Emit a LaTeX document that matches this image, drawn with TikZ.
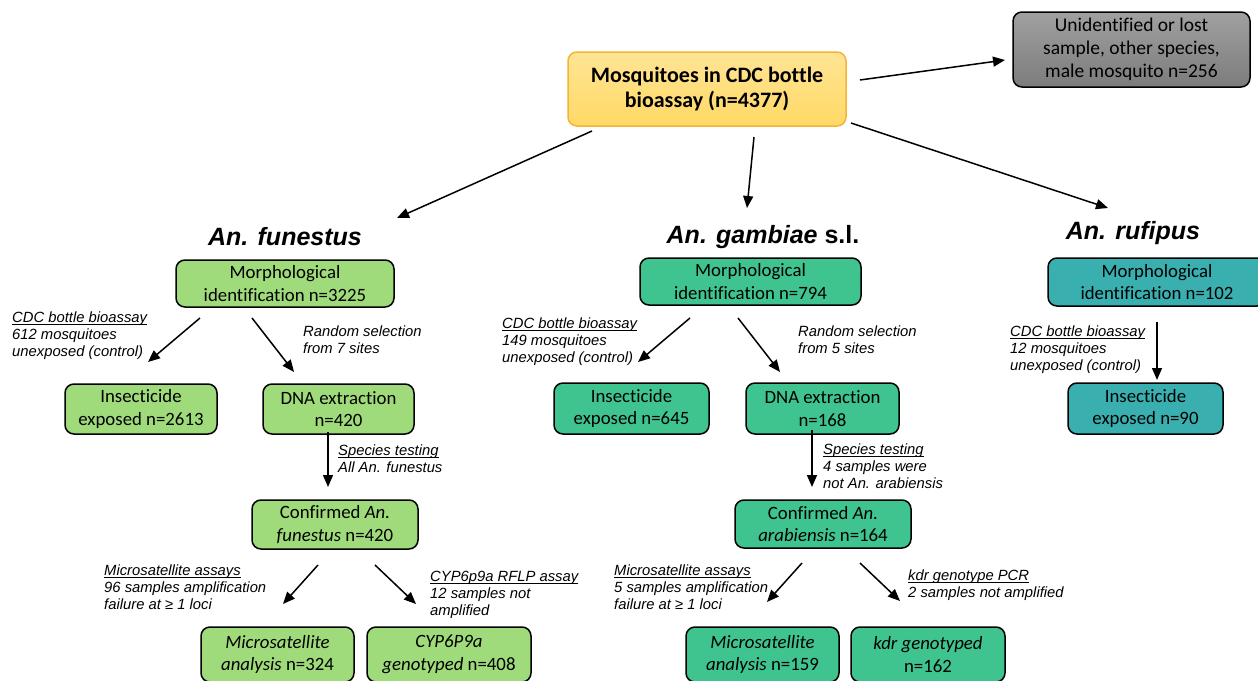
\documentclass[tikz,border=0pt]{standalone}
\usepackage{fontspec}
\setmainfont{Carlito}[Ligatures=NoCommon]
\newfontfamily\arialf{Liberation Sans}
\usetikzlibrary{arrows.meta}
\definecolor{ybox}{HTML}{FFD966}
\definecolor{yborder}{HTML}{F2B535}
\definecolor{gtop}{HTML}{A0A0A0}
\definecolor{gbot}{HTML}{7C7C7C}
\definecolor{lgreen}{HTML}{9FDB7B}
\definecolor{sgreen}{HTML}{3FC48F}
\definecolor{teal}{HTML}{3AAFB0}
\newcommand{\uln}[1]{\setbox0\hbox{#1}\rlap{\rule[-2pt]{\wd0}{1pt}}\box0}
\begin{document}
\begin{tikzpicture}[x=1pt,y=-1pt,
  box/.style={draw=black, line width=1.5pt, rounded corners=9pt, align=center, inner sep=0pt,
    font=\fontsize{18.8}{22.5}\selectfont, text=black},
  anno/.style={anchor=north west, align=left, inner sep=0pt,
    font=\arialf\itshape\fontsize{14.8}{16.8}\selectfont},
  heading/.style={anchor=base, inner sep=0pt, font=\arialf\bfseries\itshape\fontsize{25}{30}\selectfont},
  arr/.style={line width=1.5pt, -{Triangle[length=12pt,width=10pt]}}]
\useasboundingbox (0,0) rectangle (1258,680);
\clip (0,0) rectangle (1258,680);

% top boxes
\node[box, draw=yborder, top color=ybox!70!white, bottom color=ybox, minimum width=278, minimum height=74,
  font=\bfseries\fontsize{22}{25}\selectfont] (top) at (707,89) {Mosquitoes in CDC bottle\\bioassay (n=4377)};
\node[box, top color=gtop, bottom color=gbot, minimum width=237, minimum height=75,
  font=\fontsize{19.5}{23}\selectfont] (grey) at (1131.5,49.5)
  {Unidentified or lost\\sample, other species,\\male mosquito n=256};

% headings
\node[heading] (hF) at (285,245) {An. funestus};
\node[heading] (hG) at (763,243) {An. gambiae \textup{s.l.}};
\node[heading] (hR) at (1133,239) {An. rufipus};

% funestus branch
\node[box, fill=lgreen, minimum width=218, minimum height=47] (morphF) at (285,283.5) {Morphological\\identification n=3225};
\node[box, fill=lgreen, minimum width=152, minimum height=50] (insF) at (141,409) {Insecticide\\exposed n=2613};
\node[box, fill=lgreen, minimum width=151, minimum height=50] (dnaF) at (338.5,409) {DNA extraction\\n=420};
\node[box, fill=lgreen, minimum width=166, minimum height=49] (confF) at (335,524.5) {Confirmed \textit{An.}\\\textit{funestus} n=420};
\node[box, fill=lgreen, minimum width=153, minimum height=55] (microF) at (277.5,654.5) {\textit{Microsatellite}\\\textit{analysis} n=324};
\node[box, fill=lgreen, minimum width=164, minimum height=55] (cypF) at (449,654.5) {\textit{CYP6P9a}\\\textit{genotyped} n=408};

% gambiae branch
\node[box, fill=sgreen, minimum width=221, minimum height=47] (morphG) at (750.5,281.5) {Morphological\\identification n=794};
\node[box, fill=sgreen, minimum width=155, minimum height=51] (insG) at (631.5,408.5) {Insecticide\\exposed n=645};
\node[box, fill=sgreen, minimum width=153, minimum height=51] (dnaG) at (822.5,408.5) {DNA extraction\\n=168};
\node[box, fill=sgreen, minimum width=176, minimum height=48] (confG) at (823,524) {Confirmed \textit{An.}\\\textit{arabiensis} n=164};
\node[box, fill=sgreen, minimum width=153, minimum height=55] (microG) at (762.5,654.5) {\textit{Microsatellite}\\\textit{analysis} n=159};
\node[box, fill=sgreen, minimum width=154, minimum height=55] (kdr) at (928,654.5) {\textit{kdr genotyped}\\n=162};

% rufipus branch
\node[box, fill=teal, minimum width=218, minimum height=48] (morphR) at (1157,282) {Morphological\\identification n=102};
\node[box, fill=teal, minimum width=155, minimum height=51] (insR) at (1145.5,408.5) {Insecticide\\exposed n=90};

% annotations
\node[anno] (a1) at (12,312) {\uln{CDC bottle bioassay}\\612 mosquitoes\\unexposed (control)};
\node[anno] (a2) at (303,326) {Random selection\\from 7 sites};
\node[anno] (a3) at (338,445) {\uln{Species testing}\\All An. funestus};
\node[anno] (a4) at (104,565) {\uln{Microsatellite assays}\\96 samples amplification\\failure at ≥ 1 loci};
\node[anno] (a5) at (430,571) {\uln{CYP6p9a RFLP assay}\\12 samples not\\amplified};
\node[anno] (a6) at (502,318) {\uln{CDC bottle bioassay}\\149 mosquitoes\\unexposed (control)};
\node[anno] (a7) at (798,326) {Random selection\\from 5 sites};
\node[anno] (a8) at (823,444) {\uln{Species testing}\\4 samples were\\not An. arabiensis};
\node[anno] (a9) at (614,565) {\uln{Microsatellite assays}\\5 samples amplification\\failure at ≥ 1 loci};
\node[anno] (a10) at (908,570) {\uln{kdr genotype PCR}\\2 samples not amplified};
\node[anno] (a11) at (1010,326) {\uln{CDC bottle bioassay}\\12 mosquitoes\\unexposed (control)};

% arrow end points
\coordinate (t1) at (860,80);   \coordinate (t1e) at (1005,60);
\coordinate (t2) at (592,131);  \coordinate (t2e) at (397,218);
\coordinate (t3) at (754,137);  \coordinate (t3e) at (747,208);
\coordinate (t4) at (851,123);  \coordinate (t4e) at (1108,208);
\coordinate (f1) at (200,318);  \coordinate (f1e) at (148,362);
\coordinate (f2) at (252,318);  \coordinate (f2e) at (294,372);
\coordinate (f3) at (328,432);  \coordinate (f3e) at (328,487);
\coordinate (f4) at (318,565);  \coordinate (f4e) at (283,604);
\coordinate (f5) at (375,565);  \coordinate (f5e) at (416,604);
\coordinate (g1) at (690,318);  \coordinate (g1e) at (638,362);
\coordinate (g2) at (738,318);  \coordinate (g2e) at (780,372);
\coordinate (g3) at (812,430);  \coordinate (g3e) at (812,487);
\coordinate (g4) at (802,563);  \coordinate (g4e) at (767,602);
\coordinate (g5) at (860,563);  \coordinate (g5e) at (900,601);
\coordinate (r1) at (1157,322); \coordinate (r1e) at (1157,380);

\foreach \s in {t1,t2,t3,t4,f1,f2,f3,f4,f5,g1,g2,g3,g4,g5,r1}
  \draw[arr] (\s) -- (\s e);
\end{tikzpicture}
\end{document}
